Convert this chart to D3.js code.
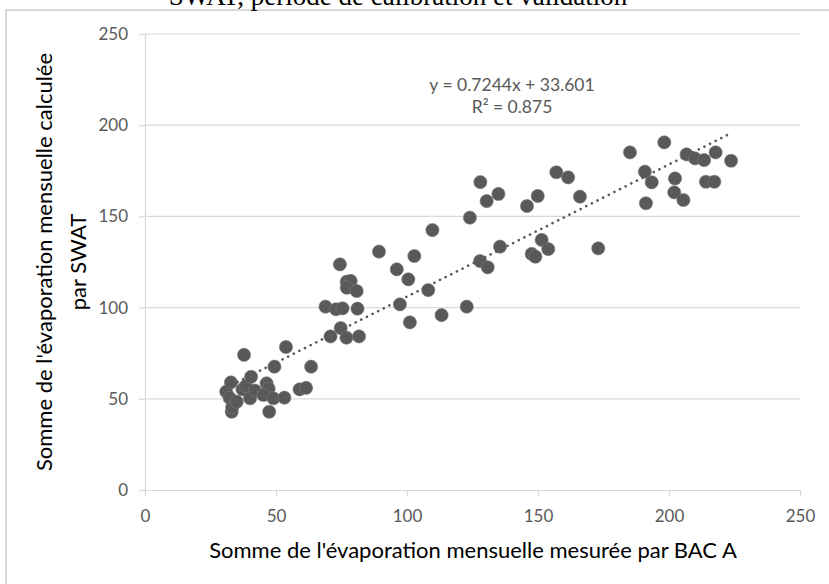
<!DOCTYPE html>
<html>
<head>
<meta charset="utf-8">
<script src="https://cdn.jsdelivr.net/npm/d3@7"></script>
<style>
  body { margin: 0; background: #fff; }
  svg { display: block; }
</style>
</head>
<body>
<script>
// mesurée (BAC A) vs calculée (SWAT)
const measured = [
  31.0, 32.3, 32.8, 33.1, 33.3, 35.0, 37.2, 37.8, 38.5, 40.1, 40.5, 42.0,
  46.4, 47.2, 45.2, 49.0, 47.4, 49.4, 53.2, 53.8, 59.0, 61.5, 63.4,
  68.9, 72.9, 75.4, 81.1, 74.7, 70.8, 76.9, 81.7, 74.4, 77.0, 78.5, 77.0,
  80.8, 89.3, 96.1, 97.3, 100.5, 101.1, 102.8, 108.1, 109.7, 113.2, 122.8,
  124.0, 127.9, 130.8, 128.0, 130.4, 134.9, 135.5, 145.8, 147.6, 149.0,
  149.9, 151.4, 153.9, 157.0, 161.5, 166.0, 173.0,
  185.1, 190.8, 191.2, 193.4, 198.2, 202.0, 202.3, 205.5, 206.7, 209.9,
  213.4, 214.1, 217.3, 217.8, 223.7
];
const calculated = [
  53.9, 50.5, 59.0, 42.9, 45.5, 48.4, 55.2, 74.1, 57.0, 50.3, 62.1, 54.5,
  58.5, 55.5, 52.1, 50.3, 42.9, 67.6, 50.6, 78.4, 55.2, 56.0, 67.6,
  100.5, 99.1, 99.6, 99.4, 88.8, 84.2, 83.5, 84.2, 123.7, 114.2, 114.6, 110.9,
  109.1, 130.7, 121.0, 101.8, 115.5, 91.9, 128.3, 109.6, 142.5, 95.9, 100.5,
  149.3, 125.5, 122.1, 168.8, 158.4, 162.3, 133.4, 155.7, 129.4, 127.9,
  161.2, 137.1, 132.1, 174.2, 171.4, 160.8, 132.5,
  185.1, 174.5, 157.2, 168.7, 190.6, 163.2, 170.8, 159.0, 184.0, 181.8,
  180.9, 169.0, 169.0, 185.1, 180.5
];
const xTicks = [0, 50, 100, 150, 200, 250];
const yTicks = [0, 50, 100, 150, 200, 250];
const slope = 0.7244;
const intercept = 33.601;
const equationLines = ['y = 0.7244x + 33.601', 'R² = 0.875'];

const width = 829;
const height = 584;
const grey = '#595959';
const lineGrey = '#d9d9d9';
const font = 'Lato, "Open Sans", sans-serif';

const svg = d3.select('body')
  .append('svg')
  .attr('width', width)
  .attr('height', height);

svg.append('rect')
  .attr('width', width).attr('height', height)
  .attr('fill', '#fff');

// cadre du graphique
svg.append('rect')
  .attr('x', 6).attr('y', 10)
  .attr('width', 1000).attr('height', 1000)
  .attr('fill', 'none')
  .attr('stroke', lineGrey)
  .attr('stroke-width', 2);

// titre (coupé en haut, comme dans l'original)
svg.append('text')
  .attr('x', 398).attr('y', 5)
  .attr('text-anchor', 'middle')
  .style('font-family', '"Liberation Serif", "Times New Roman", serif')
  .style('font-size', '27px')
  .attr('fill', '#000')
  .text('SWAT, période de calibration et validation');

const x = d3.scaleLinear().domain([0, 250]).range([145, 800]);
const y = d3.scaleLinear().domain([0, 250]).range([490, 34]);

// grille horizontale
svg.append('g')
  .selectAll('line')
  .data(yTicks.slice(1))
  .enter()
  .append('line')
  .attr('x1', x(0)).attr('x2', x(250))
  .attr('y1', d => y(d)).attr('y2', d => y(d))
  .attr('stroke', lineGrey)
  .attr('stroke-width', 1.2);

const xAxis = svg.append('g')
  .attr('transform', `translate(0,${y(0)})`)
  .call(d3.axisBottom(x).tickValues(xTicks).tickSize(6).tickPadding(14));
const yAxis = svg.append('g')
  .attr('transform', `translate(${x(0)},0)`)
  .call(d3.axisLeft(y).tickValues(yTicks).tickSize(6).tickPadding(11));

[xAxis, yAxis].forEach(ax => {
  ax.select('.domain').attr('stroke', lineGrey).attr('stroke-width', 1.2);
  ax.selectAll('.tick line').attr('stroke', lineGrey).attr('stroke-width', 1.2);
  ax.selectAll('.tick text')
    .attr('fill', grey)
    .style('font-family', font)
    .style('font-size', '17px');
});

// titres des axes
svg.append('text')
  .attr('x', 473).attr('y', 558)
  .attr('text-anchor', 'middle')
  .style('font-family', font)
  .style('font-size', '22px')
  .attr('fill', '#000')
  .text("Somme de l'évaporation mensuelle mesurée par BAC A");

const yTitle = svg.append('text')
  .attr('transform', 'translate(0,262) rotate(-90)')
  .attr('text-anchor', 'middle')
  .style('font-family', font)
  .style('font-size', '22px')
  .attr('fill', '#000');
yTitle.append('tspan').attr('x', 0).attr('y', 52)
  .text("Somme de l'évaporation mensuelle calculée");
yTitle.append('tspan').attr('x', 0).attr('y', 86)
  .text('par SWAT');

// points
svg.append('g')
  .selectAll('circle')
  .data(measured.map((m, i) => [m, calculated[i]]))
  .enter()
  .append('circle')
  .attr('cx', d => x(d[0]))
  .attr('cy', d => y(d[1]))
  .attr('r', 6.6)
  .attr('fill', '#595959')
  .attr('stroke', '#7a7a7a')
  .attr('stroke-width', 0.6);

// courbe de tendance linéaire
const xMin = d3.min(measured);
const xMax = d3.max(measured);
svg.append('line')
  .attr('x1', x(xMin)).attr('y1', y(slope * xMin + intercept))
  .attr('x2', x(xMax)).attr('y2', y(slope * xMax + intercept))
  .attr('stroke', grey)
  .attr('stroke-width', 2.6)
  .attr('stroke-linecap', 'round')
  .attr('stroke-dasharray', '0.1 6.2');

// équation
svg.append('g')
  .selectAll('text')
  .data(equationLines)
  .enter()
  .append('text')
  .attr('x', 512)
  .attr('y', (d, i) => 91 + i * 22)
  .attr('text-anchor', 'middle')
  .style('font-family', font)
  .style('font-size', '17.5px')
  .attr('fill', grey)
  .text(d => d);
</script>
</body>
</html>
